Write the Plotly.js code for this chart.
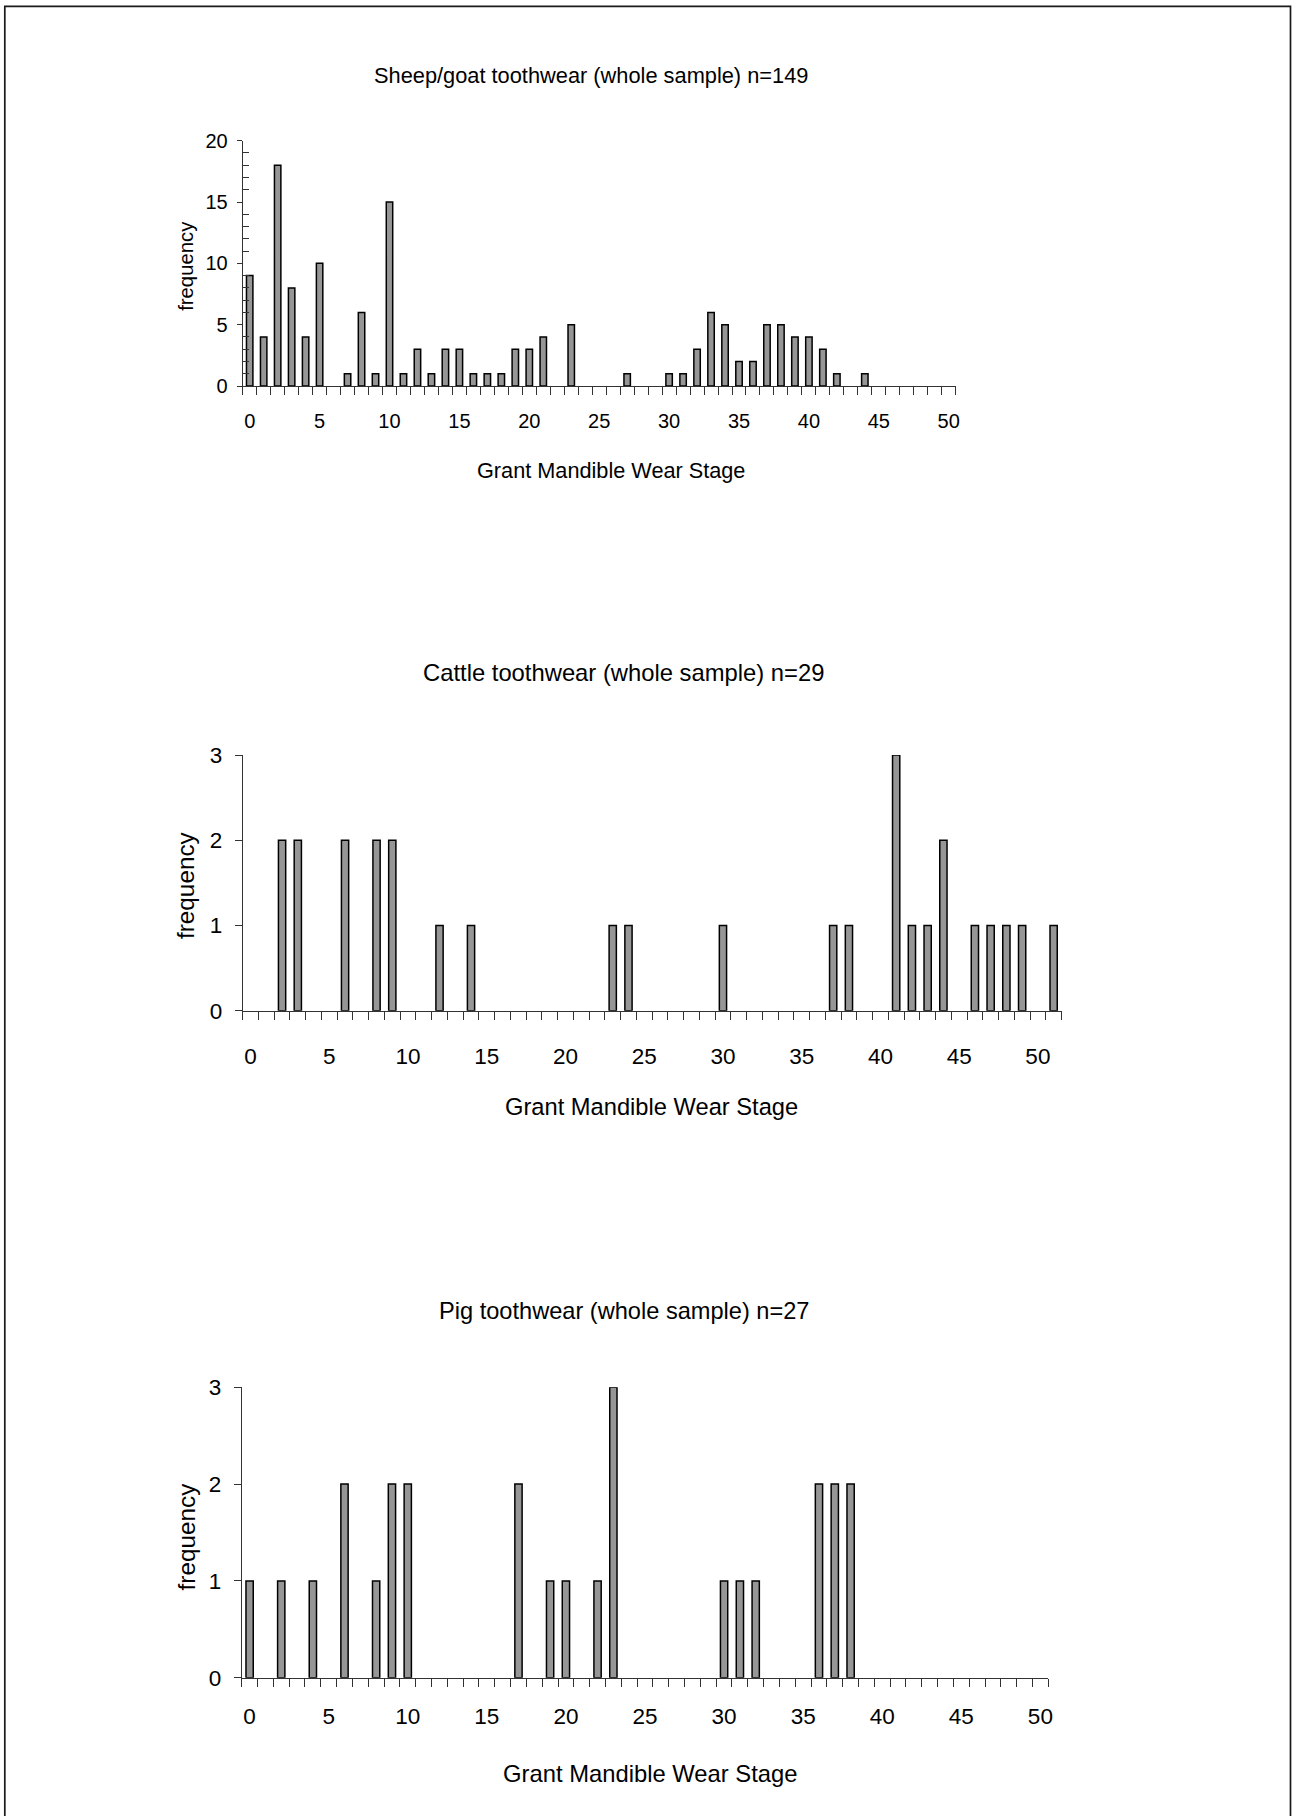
<!DOCTYPE html>
<html><head><meta charset="utf-8">
<script src="https://cdn.plot.ly/plotly-3.0.1.min.js"></script>
<style>html,body{margin:0;padding:0;background:#fff}#chart{width:1292px;height:1816px}</style>
</head><body><div id="chart"></div>
<script>
// ---- data (Grant Mandible Wear Stage -> frequency, non-zero stages only) ----
const sheepStage = [0,1,2,3,4,5,7,8,9,10,11,12,13,14,15,16,17,18,19,20,21,23,27,30,31,32,33,34,35,36,37,38,39,40,41,42,44];
const sheepFreq  = [9,4,18,8,4,10,1,6,1,15,1,3,1,3,3,1,1,1,3,3,4,5,1,1,1,3,6,5,2,2,5,5,4,4,3,1,1];
const cattleStage = [2,3,6,8,9,12,14,23,24,30,37,38,41,42,43,44,46,47,48,49,51];
const cattleFreq  = [2,2,2,2,2,1,1,1,1,1,1,1,3,1,1,2,1,1,1,1,1];
const pigStage = [0,2,4,6,8,9,10,17,19,20,22,23,30,31,32,36,37,38];
const pigFreq  = [1,1,1,2,1,2,2,2,1,1,1,3,1,1,1,2,2,2];
const xTickVals = [0,5,10,15,20,25,30,35,40,45,50];
const xTickText = ['0','5','10','15','20','25','30','35','40','45','50'];
const sheepYTicks = [0,5,10,15,20];
const smallYTicks = [0,1,2,3];
const titles = ['Sheep/goat toothwear (whole sample) n=149','Cattle toothwear (whole sample) n=29','Pig toothwear (whole sample) n=27'];
const xTitle = 'Grant Mandible Wear Stage';
const yTitle = 'frequency';

// ---- layout helpers ----
const W = 1292, H = 1816;
const FONT = 'Liberation Sans, Arial, sans-serif';
const LINE = '#333';
const px = v => v / W;
const py = v => 1 - v / H;

function boundaries(lastCat) {
  const b = [];
  for (let i = -0.5; i <= lastCat + 0.5; i += 1) b.push(i);
  return b;
}

function xAxis(dom, anchor, lastCat, fs, standoff) {
  return {
    domain: dom, anchor: anchor, range: [-0.5, lastCat + 0.5],
    tickmode: 'array', tickvals: xTickVals, ticktext: xTickText,
    ticks: 'outside', ticklen: 8, tickcolor: 'rgba(0,0,0,0)',
    ticklabelstandoff: standoff,
    minor: {tickmode: 'array', tickvals: boundaries(lastCat), ticks: 'outside', ticklen: 8, tickwidth: 1, tickcolor: LINE},
    showline: true, linecolor: LINE, linewidth: 1,
    showgrid: false, zeroline: false,
    tickfont: {family: FONT, size: fs, color: '#000'}, fixedrange: true
  };
}

function yAxis(dom, anchor, range, vals, outLen, fs, standoff, minorVals) {
  const a = {
    domain: dom, anchor: anchor, range: range,
    tickmode: 'array', tickvals: vals, ticktext: vals.map(String),
    ticks: 'outside', ticklen: outLen, tickwidth: 1, tickcolor: LINE,
    ticklabelstandoff: standoff,
    showline: true, linecolor: LINE, linewidth: 1,
    showgrid: false, zeroline: false,
    tickfont: {family: FONT, size: fs, color: '#000'}, fixedrange: true
  };
  if (minorVals) a.minor = {tickmode: 'array', tickvals: minorVals, ticks: 'inside', ticklen: 6, tickwidth: 1, tickcolor: LINE};
  return a;
}

function yInside(over, anchor, range, vals, len) {
  return {
    overlaying: over, anchor: anchor, range: range, side: 'left',
    tickmode: 'array', tickvals: vals, ticks: 'inside', ticklen: len, tickwidth: 1, tickcolor: LINE,
    showticklabels: false, showline: false, showgrid: false, zeroline: false, fixedrange: true
  };
}

function barTrace(stages, freqs, xa, ya) {
  return {
    type: 'bar', x: stages, y: freqs, xaxis: xa, yaxis: ya, width: 0.46,
    marker: {color: '#969696', line: {color: '#000', width: 1.5}},
    hoverinfo: 'x+y'
  };
}

const sheepMinor = [];
for (let v = 1; v < 20; v++) if (v % 5 !== 0) sheepMinor.push(v);

const data = [
  barTrace(sheepStage, sheepFreq, 'x', 'y'),
  barTrace(cattleStage, cattleFreq, 'x2', 'y2'),
  barTrace(pigStage, pigFreq, 'x3', 'y3')
];

function ann(text, x, y, size, angle) {
  return {text: text, xref: 'paper', yref: 'paper', x: px(x), y: py(y), xanchor: 'center', yanchor: 'middle',
          showarrow: false, textangle: angle || 0, font: {family: FONT, size: size, color: '#000'}};
}

const layout = {
  width: W, height: H, margin: {l: 0, r: 0, t: 0, b: 0},
  paper_bgcolor: '#fff', plot_bgcolor: 'rgba(0,0,0,0)', showlegend: false,
  xaxis:  xAxis([px(242.7), px(955.7)], 'y', 50, 20, 9),
  yaxis:  yAxis([py(386), py(140.7)], 'x', [0, 20], sheepYTicks, 5, 20, 5, sheepMinor),
  yaxis4: yInside('y', 'x', [0, 20], sheepYTicks, 6),
  xaxis2: xAxis([px(242.7), px(1061.5)], 'y2', 51, 22.5, 17),
  yaxis2: yAxis([py(1010.7), py(755)], 'x2', [0, 3], smallYTicks, 7, 22.5, 8),
  yaxis5: yInside('y2', 'x2', [0, 3], smallYTicks, 4),
  xaxis3: xAxis([px(241.7), px(1048.3)], 'y3', 50, 22.5, 10),
  yaxis3: yAxis([py(1677.7), py(1387.3)], 'x3', [0, 3], smallYTicks, 7, 22.5, 8),
  yaxis6: yInside('y3', 'x3', [0, 3], smallYTicks, 5),
  annotations: [
    ann(titles[0], 590.5, 76, 21.8),
    ann(xTitle, 610.5, 470, 21.7),
    ann(yTitle, 186, 265.8, 20.3, -90),
    ann(titles[1], 623.8, 672.5, 23.8),
    ann(xTitle, 651.8, 1106.5, 23.7),
    ann(yTitle, 185, 885, 24.3, -90),
    ann(titles[2], 624.7, 1310.5, 23.6),
    ann(xTitle, 650, 1773.5, 23.8),
    ann(yTitle, 186.7, 1536.7, 24.3, -90)
  ],
  shapes: [{type: 'rect', xref: 'paper', yref: 'paper', x0: px(4.8), x1: px(1290.5), y0: py(6.3), y1: py(1830),
            line: {color: '#1a1a1a', width: 1.7}, fillcolor: 'rgba(0,0,0,0)', layer: 'above'}]
};

Plotly.newPlot('chart', data, layout, {displayModeBar: false, staticPlot: true});
</script>
</body></html>
